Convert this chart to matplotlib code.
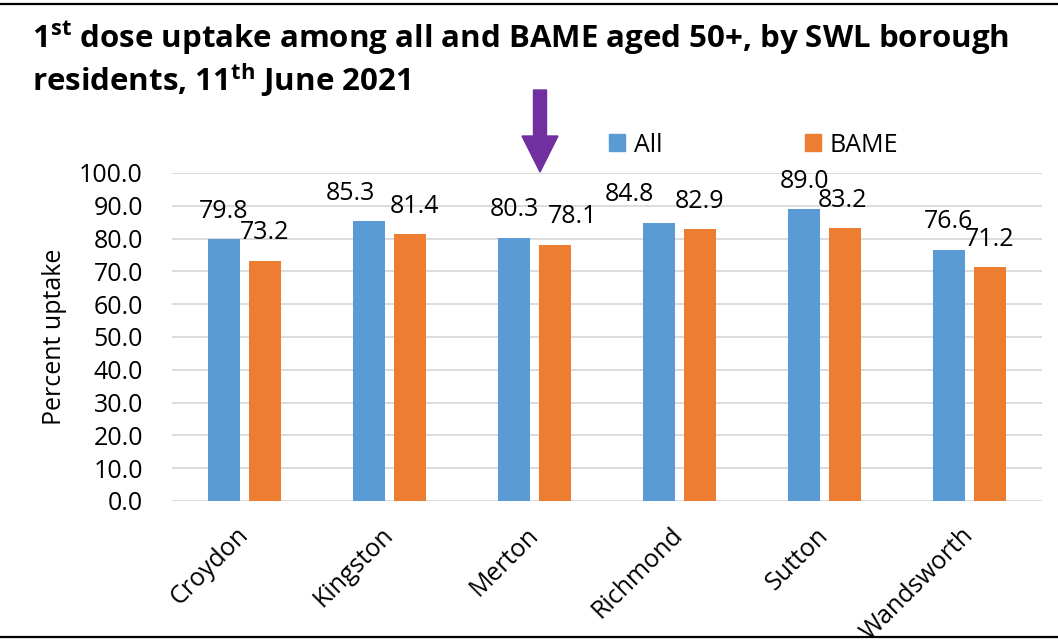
import matplotlib
matplotlib.use('Agg')
import matplotlib.pyplot as plt
from matplotlib.patches import Polygon, Patch
from matplotlib.lines import Line2D
import numpy as np

# Uptake data by borough
boroughs = ['Croydon', 'Kingston', 'Merton', 'Richmond', 'Sutton', 'Wandsworth']
uptake_all = [79.8, 85.3, 80.3, 84.8, 89.0, 76.6]
uptake_bame = [73.2, 81.4, 78.1, 82.9, 83.2, 71.2]
yticks = [0, 10, 20, 30, 40, 50, 60, 70, 80, 90, 100]

# horizontal nudges (pixels) for a few data labels that were moved by hand
nudge_all = [0, -19, 0, -30, 0, 0]
nudge_bame = [0, 5, 18, 0, -2, 0]

blue = '#5B9BD5'
orange = '#ED7D31'
purple = '#7030A0'

plt.rcParams['font.family'] = ['Open Sans', 'DejaVu Sans']
plt.rcParams['mathtext.fontset'] = 'custom'
plt.rcParams['mathtext.rm'] = 'Open Sans'
plt.rcParams['mathtext.bf'] = 'Open Sans:bold'

W, H = 1058, 641
fig = plt.figure(figsize=(W / 100, H / 100), dpi=100)
ax = fig.add_axes([172 / W, 1 - 501 / H, 870 / W, 328 / H])

x = np.arange(len(boroughs))
bw = 0.224
off = 0.141
bars_all = ax.bar(x - off, uptake_all, bw, color=blue, zorder=3, label='All')
bars_bame = ax.bar(x + off, uptake_bame, bw, color=orange, zorder=3, label='BAME')

for bars, vals, nudges in [(bars_all, uptake_all, nudge_all), (bars_bame, uptake_bame, nudge_bame)]:
    for b, v, dx in zip(bars, vals, nudges):
        ax.annotate(f'{v:.1f}', (b.get_x() + b.get_width() / 2, v),
                    xytext=(dx, 28), textcoords='offset pixels',
                    ha='center', va='center', fontsize=18, color='black', zorder=4)

ax.set_xlim(-0.5, len(boroughs) - 0.5)
ax.set_ylim(0, 100)
ax.set_yticks(yticks)
ax.set_yticklabels([f'{t:.1f}' for t in yticks], fontsize=18)
ax.yaxis.grid(True, color='#d9d9d9', lw=1.3, zorder=0)
ax.set_axisbelow(True)
for s in ax.spines.values():
    s.set_visible(False)
ax.tick_params(axis='both', length=0)
ax.tick_params(axis='y', pad=21)
ax.set_xticks(x)
ax.set_xticklabels(boroughs, rotation=45, ha='right', va='center',
                   rotation_mode='anchor', fontsize=18)
ax.tick_params(axis='x', pad=22)
ax.set_ylabel('Percent uptake', fontsize=18)
ax.yaxis.set_label_coords(-0.121, 0.5)

# legend
handles = [Patch(color=blue, label='All'), Patch(color=orange, label='BAME')]
fig.legend(handles=handles, loc='center left', bbox_to_anchor=(609 / W, 1 - 145 / H),
           ncol=2, frameon=False, fontsize=18, handlelength=0.65, handleheight=0.65,
           handletextpad=0.35, columnspacing=5.7, borderaxespad=0, borderpad=0)

# title
fig.text(32 / W, 1 - 48 / H, r'1$^{\mathbf{st}}$ dose uptake among all and BAME aged 50+, by SWL borough',
         fontsize=22.5, fontweight='bold', ha='left', va='baseline')
fig.text(32 / W, 1 - 91 / H, r'residents, 11$^{\mathbf{th}}$ June 2021',
         fontsize=22.5, fontweight='bold', ha='left', va='baseline')

# downward arrow over Merton
def px(xp, yp):
    return (xp / 100, (H - yp) / 100)

arrow = [px(533.5, 90), px(546.5, 90), px(546.5, 136), px(558, 136),
         px(540, 172), px(522, 136), px(533.5, 136)]
fig.add_artist(Polygon(arrow, closed=True, color=purple, transform=fig.dpi_scale_trans))

# frame lines top and bottom
fig.add_artist(Line2D([0, 1], [1 - 4 / H, 1 - 4 / H], color='black', lw=1.6, transform=fig.transFigure))
fig.add_artist(Line2D([0, 1], [1 - 637 / H, 1 - 637 / H], color='black', lw=1.6, transform=fig.transFigure))

fig.savefig('out.png', dpi=100)
